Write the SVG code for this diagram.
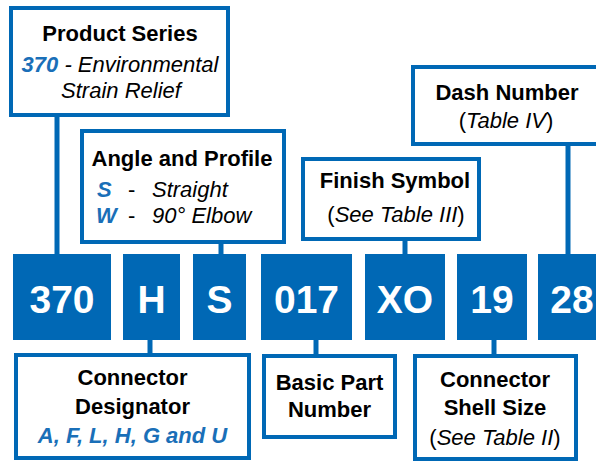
<svg xmlns="http://www.w3.org/2000/svg" width="596" height="462" viewBox="0 0 596 462">
<style>
.box{fill:#fff;stroke:#0068b5;stroke-width:4}
.code{fill:#0068b5}
.conn{stroke:#0068b5;stroke-width:5;fill:none}
text{font-family:"Liberation Sans",Arial,sans-serif;font-size:22px;fill:#000;text-anchor:middle}
.b{font-weight:bold}
.i{font-style:italic}
.bl{fill:#1a6fb8;font-weight:bold;font-style:italic}
.ct{fill:#fff;font-weight:bold;font-size:39px}
.st{text-anchor:start}
</style>
<rect width="596" height="462" fill="#fff"/>
<g id="connectors">
<line class="conn" x1="57" y1="115" x2="57" y2="256"/>
<line class="conn" x1="221" y1="242" x2="221" y2="256"/>
<line class="conn" x1="405" y1="239" x2="405" y2="256"/>
<line class="conn" x1="568" y1="144" x2="568" y2="256"/>
<line class="conn" x1="150" y1="338" x2="150" y2="357"/>
<line class="conn" x1="316" y1="338" x2="316" y2="358"/>
<line class="conn" x1="494" y1="338" x2="494" y2="358"/>
</g>
<g id="product-series">
<rect class="box" x="11" y="8" width="217" height="107"/>
<text x="120" y="41" class="b">Product Series</text>
<text x="120" y="72"><tspan class="bl">370</tspan><tspan class="i"> - Environmental</tspan></text>
<text x="121" y="98" class="i">Strain Relief</text>
</g>
<g id="angle-profile">
<rect class="box" x="82" y="131" width="202" height="111"/>
<text x="182" y="166" class="b">Angle and Profile</text>
<text y="197" class="st"><tspan x="97" class="bl">S</tspan><tspan x="128">-</tspan><tspan x="152" class="i">Straight</tspan></text>
<text y="223" class="st"><tspan x="96" class="bl">W</tspan><tspan x="128">-</tspan><tspan x="152" class="i">90° Elbow</tspan></text>
</g>
<g id="finish-symbol">
<rect class="box" x="303" y="159" width="176" height="80"/>
<text x="395" y="188" class="b">Finish Symbol</text>
<text x="396" y="222">(<tspan class="i">See Table III</tspan>)</text>
</g>
<g id="dash-number">
<rect class="box" x="413" y="67" width="192" height="77"/>
<text x="507" y="100" class="b">Dash Number</text>
<text x="506" y="128">(<tspan class="i">Table IV</tspan>)</text>
</g>
<g id="code-370">
<rect class="code" x="13" y="254" width="98" height="86"/>
<text x="62" y="313" class="ct">370</text>
</g>
<g id="code-H">
<rect class="code" x="123" y="254" width="57" height="86"/>
<text x="151.5" y="313" class="ct">H</text>
</g>
<g id="code-S">
<rect class="code" x="193" y="254" width="53" height="86"/>
<text x="219.5" y="313" class="ct">S</text>
</g>
<g id="code-017">
<rect class="code" x="261" y="254" width="91" height="86"/>
<text x="306.5" y="313" class="ct">017</text>
</g>
<g id="code-XO">
<rect class="code" x="365" y="254" width="80" height="86"/>
<text x="405" y="313" class="ct">XO</text>
</g>
<g id="code-19">
<rect class="code" x="457" y="254" width="70" height="86"/>
<text x="492" y="313" class="ct">19</text>
</g>
<g id="code-28">
<rect class="code" x="538" y="254" width="70" height="86"/>
<text x="572" y="313" class="ct">28</text>
</g>
<g id="connector-designator">
<rect class="box" x="16" y="355" width="233" height="103"/>
<text x="132.5" y="385" class="b">Connector</text>
<text x="132.5" y="414" class="b">Designator</text>
<text x="132.5" y="443" class="bl">A, F, L, H, G and U</text>
</g>
<g id="basic-part">
<rect class="box" x="264" y="356" width="131" height="81"/>
<text x="329.5" y="390" class="b">Basic Part</text>
<text x="329.5" y="417" class="b">Number</text>
</g>
<g id="shell-size">
<rect class="box" x="415" y="356" width="161" height="103"/>
<text x="495" y="387" class="b">Connector</text>
<text x="495" y="415" class="b">Shell Size</text>
<text x="495" y="445">(<tspan class="i">See Table II</tspan>)</text>
</g>
</svg>
